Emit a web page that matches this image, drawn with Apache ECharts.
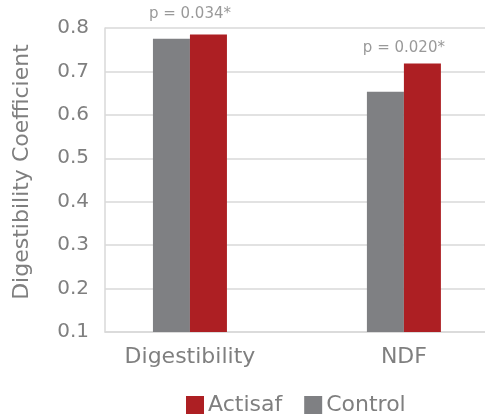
<!DOCTYPE html>
<html>
<head>
<meta charset="utf-8">
<script src="https://cdn.jsdelivr.net/npm/echarts@6/dist/echarts.min.js"></script>
<style>
html,body{margin:0;padding:0;background:#fff;}
#c{width:485px;height:419px;}
</style>
</head>
<body>
<div id="c"></div>
<script>
var categories = ['Digestibility', 'NDF'];
var controlValues = [0.775, 0.653];
var actisafValues = [0.785, 0.718];
var pLabels = ['p = 0.034*', 'p = 0.020*'];
var pHeights = [0.795, 0.716];
var yTicks = [0.1, 0.2, 0.3, 0.4, 0.5, 0.6, 0.7, 0.8];

var FONT = 'DejaVu Sans';
var GRAY_TEXT = '#7f7f7f';

function pairs(vals){ return vals.map(function(v,i){ return [i, v]; }); }

var chart = echarts.init(document.getElementById('c'), null, {renderer:'canvas'});
chart.setOption({
  animation: false,
  textStyle: {fontFamily: FONT},
  grid: {left: 105, right: 0, top: 28, bottom: 87},
  legend: {
    data: ['Actisaf', 'Control'],
    top: 394, left: 186, padding: 0,
    itemWidth: 18, itemHeight: 18, itemGap: 22,
    icon: 'rect',
    textStyle: {fontFamily: FONT, fontSize: 22, color: GRAY_TEXT, padding: [0,0,0,-1]}
  },
  xAxis: {
    type: 'value',
    min: -0.397, max: 1.379,
    splitLine: {show: false},
    axisLine: {show: true, onZero: false, lineStyle: {color: '#d9d9d9', width: 1.5}},
    axisTick: {show: false},
    axisLabel: {
      customValues: [0, 1],
      formatter: function(v){ return categories[Math.round(v)] || ''; },
      fontFamily: FONT, fontSize: 22, color: GRAY_TEXT, margin: 14
    }
  },
  yAxis: {
    type: 'value',
    min: 0.1, max: 0.8, interval: 0.1,
    name: 'Digestibility Coefficient',
    nameLocation: 'middle',
    nameGap: 72,
    nameTextStyle: {fontFamily: FONT, fontSize: 22, color: GRAY_TEXT, padding: [0,0,0,16]},
    axisLine: {show: true, onZero: false, lineStyle: {color: '#d9d9d9', width: 1.5}},
    axisTick: {show: false},
    axisLabel: {
      fontFamily: FONT, fontSize: 20, color: GRAY_TEXT, margin: 16,
      formatter: function(v){ return v.toFixed(1); }
    },
    splitLine: {show: true, lineStyle: {color: '#d9d9d9', width: 1.5}}
  },
  series: [
    {
      name: 'Control', type: 'bar',
      data: pairs(controlValues),
      barWidth: 37, barGap: '0%',
      itemStyle: {color: '#7f8083'},
      z: 1
    },
    {
      name: 'Actisaf', type: 'bar',
      data: pairs(actisafValues),
      barWidth: 37, barGap: '0%',
      itemStyle: {color: '#ad1f23'},
      z: 1
    },
    {
      name: 'pvalues', type: 'scatter',
      data: pairs(pHeights),
      symbolSize: 1,
      silent: true,
      itemStyle: {color: 'rgba(0,0,0,0)', borderWidth: 0},
      label: {
        show: true, position: 'top', distance: 8,
        formatter: function(p){ return pLabels[p.dataIndex]; },
        fontFamily: FONT, fontSize: 15, color: GRAY_TEXT
      },
      z: 5
    }
  ]
});
</script>
</body>
</html>
